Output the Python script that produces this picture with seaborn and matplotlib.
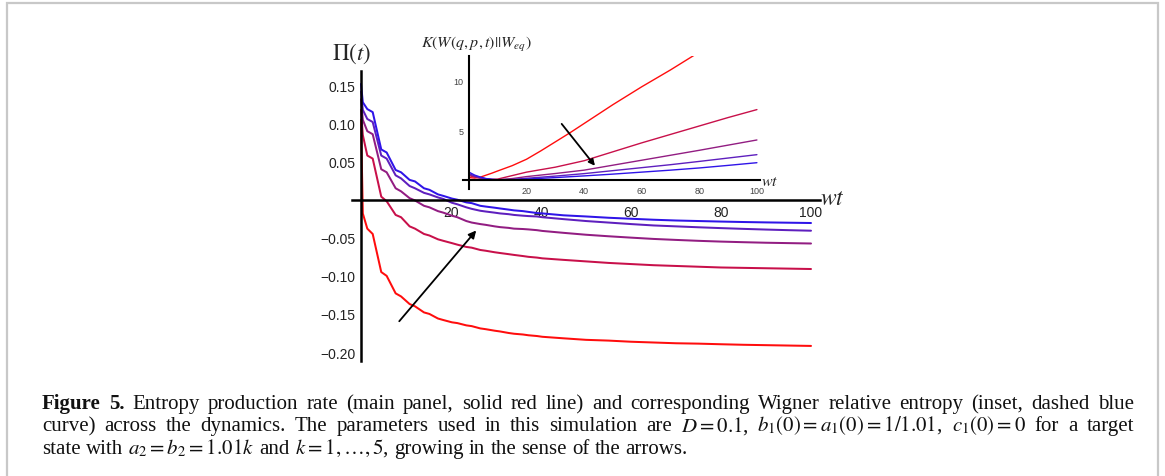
import numpy as np
import pandas as pd
import matplotlib
matplotlib.use("Agg")
import matplotlib.pyplot as plt
import seaborn as sns
from matplotlib.ticker import MultipleLocator, FuncFormatter
from matplotlib.patches import Rectangle

# ---------------- data ----------------
K_VALUES = [1, 2, 3, 4, 5]
COLORS = ["#ff0d0d", "#c8104a", "#921d82", "#5e1fbe", "#2f14e8"]

# main panel: entropy production rate Pi(t) vs wt
T_MAIN = [0, 0.4, 1.4, 2.6, 4.5, 5.7, 7.7, 8.9, 10.8, 12.0, 14.0, 15.2, 17.1, 18.3,
          20.2, 21.4, 23.4, 24.6, 26.5, 27.7, 29.7, 30.9, 32.8, 34.0, 36.0, 37.2,
          39.1, 40.3, 45, 50, 55, 60, 65, 70, 75, 80, 85, 90, 95, 100]
PI_K1 = [0.105, -0.018, -0.038, -0.045, -0.095, -0.100, -0.123, -0.127, -0.137, -0.140,
         -0.148, -0.150, -0.156, -0.158, -0.161, -0.162, -0.165, -0.166, -0.169, -0.170,
         -0.172, -0.173, -0.175, -0.176, -0.177, -0.178, -0.179, -0.180, -0.182, -0.184,
         -0.185, -0.1865, -0.1875, -0.1885, -0.189, -0.1898, -0.1905, -0.191, -0.1915, -0.192]
PI_K2 = [0.118, 0.085, 0.058, 0.054, 0.004, -0.002, -0.020, -0.023, -0.035, -0.038,
         -0.045, -0.047, -0.052, -0.054, -0.057, -0.059, -0.062, -0.063, -0.066, -0.067,
         -0.069, -0.070, -0.0715, -0.0725, -0.074, -0.075, -0.076, -0.077, -0.079, -0.081,
         -0.083, -0.0845, -0.086, -0.087, -0.088, -0.089, -0.0895, -0.090, -0.0905, -0.091]
PI_K3 = [0.132, 0.105, 0.090, 0.086, 0.040, 0.036, 0.015, 0.011, 0.002, -0.001,
         -0.008, -0.010, -0.015, -0.017, -0.021, -0.023, -0.028, -0.030, -0.032, -0.033,
         -0.035, -0.036, -0.037, -0.038, -0.0385, -0.039, -0.040, -0.041, -0.0435, -0.046,
         -0.048, -0.0498, -0.0515, -0.0528, -0.054, -0.055, -0.0558, -0.0565, -0.057, -0.0575]
PI_K4 = [0.142, 0.118, 0.106, 0.102, 0.058, 0.054, 0.032, 0.028, 0.018, 0.015,
         0.009, 0.007, 0.003, 0.001, -0.004, -0.006, -0.010, -0.012, -0.0145, -0.0155,
         -0.017, -0.018, -0.019, -0.020, -0.021, -0.0215, -0.022, -0.023, -0.0255, -0.028,
         -0.030, -0.032, -0.0338, -0.035, -0.0362, -0.0373, -0.0383, -0.0392, -0.040, -0.0407]
PI_K5 = [0.152, 0.128, 0.119, 0.115, 0.066, 0.062, 0.039, 0.036, 0.026, 0.024,
         0.015, 0.013, 0.007, 0.005, 0.0015, 0.0, -0.0035, -0.0045, -0.008, -0.009,
         -0.0105, -0.0115, -0.013, -0.014, -0.015, -0.016, -0.0175, -0.018, -0.0205, -0.022,
         -0.0237, -0.025, -0.0263, -0.0273, -0.028, -0.0287, -0.0293, -0.0298, -0.0302, -0.0306]

# inset: Wigner relative entropy K vs wt
T_INSET_K1 = [0, 2, 4, 6, 8, 10, 15, 20, 25, 30, 35, 40, 50, 60, 70, 80]
KL_K1 = [0.25, 0.2, 0.3, 0.5, 0.7, 0.92, 1.45, 2.1, 2.95, 3.85, 4.75, 5.7, 7.6, 9.4, 11.1, 12.9]
T_INSET = [0, 2, 4, 6, 8, 10, 15, 20, 30, 40, 50, 60, 70, 80, 90, 100]
KL_K2 = [0.45, 0.3, 0.18, 0.1, 0.07, 0.1, 0.45, 0.8, 1.3, 1.95, 2.85, 3.75, 4.6, 5.45, 6.3, 7.1]
KL_K3 = [0.55, 0.35, 0.2, 0.1, 0.05, 0.04, 0.15, 0.35, 0.66, 1.0, 1.5, 2.0, 2.5, 3.0, 3.52, 4.04]
KL_K4 = [0.65, 0.42, 0.25, 0.12, 0.06, 0.03, 0.06, 0.18, 0.4, 0.65, 0.95, 1.25, 1.55, 1.88, 2.22, 2.56]
KL_K5 = [0.8, 0.5, 0.3, 0.15, 0.07, 0.03, 0.03, 0.1, 0.25, 0.42, 0.6, 0.8, 1.0, 1.22, 1.48, 1.75]

MAIN_X_TICKS = [20, 40, 60, 80, 100]
MAIN_Y_TICKS = [-0.20, -0.15, -0.10, -0.05, 0.05, 0.10, 0.15]
INSET_X_TICKS = [20, 40, 60, 80, 100]
INSET_Y_TICKS = [5, 10]

CAPTION_BOLD = "Figure 5."
CAPTION_L1 = ("Entropy production rate (main panel, solid red line) and corresponding "
              "Wigner relative entropy (inset, dashed blue")
CAPTION_L2 = ("curve) across the dynamics. The parameters used in this simulation are "
              r"$D=0.1$, $b_1(0)=a_1(0)=1/1.01$, $c_1(0)=0$ for a target")
CAPTION_L3 = (r"state with $a_2=b_2=1.01k$ and $k=1,\ldots,5$, growing in the sense of the arrows.")

# ---------------- tables ----------------
main_df = pd.concat([
    pd.DataFrame({"wt": T_MAIN, "Pi": ys, "k": k})
    for k, ys in zip(K_VALUES, [PI_K1, PI_K2, PI_K3, PI_K4, PI_K5])
], ignore_index=True)
inset_df = pd.concat([
    pd.DataFrame({"wt": ts, "K": ys, "k": k})
    for k, ts, ys in zip(K_VALUES, [T_INSET_K1, T_INSET, T_INSET, T_INSET, T_INSET],
                         [KL_K1, KL_K2, KL_K3, KL_K4, KL_K5])
], ignore_index=True)
palette = dict(zip(K_VALUES, COLORS))

# ---------------- style ----------------
sns.set_style("white")
plt.rcParams["font.family"] = ["Liberation Sans", "DejaVu Sans"]
plt.rcParams["mathtext.fontset"] = "stix"
plt.rcParams["axes.unicode_minus"] = True

W, H = 1165, 477
fig = plt.figure(figsize=(W / 100, H / 100), dpi=100)
fig.patch.set_facecolor("white")


def fx(px):
    return px / W


def fy(py):
    return 1 - py / H


# ---------------- main axes ----------------
ax = fig.add_axes([fx(352), fy(361.7), (820 - 352) / W, (361.7 - 71.7) / H])
ax.set_facecolor("none")
sns.lineplot(data=main_df, x="wt", y="Pi", hue="k", palette=palette, hue_order=K_VALUES,
             estimator=None, sort=False, legend=False, linewidth=1.45, ax=ax)
ax.set_xlim(-2, 102)
ax.set_ylim(-0.2114, 0.1694)
ax.set_xlabel("")
ax.set_ylabel("")
for s in ["top", "right"]:
    ax.spines[s].set_visible(False)
ax.spines["left"].set_position(("data", 0))
ax.spines["bottom"].set_position(("data", 0))
for s in ["left", "bottom"]:
    ax.spines[s].set_linewidth(1.8)
    ax.spines[s].set_color("black")
ax.set_xticks(MAIN_X_TICKS)
ax.set_yticks(MAIN_Y_TICKS)
ax.xaxis.set_minor_locator(MultipleLocator(5))
ax.yaxis.set_minor_locator(MultipleLocator(0.01))
ax.yaxis.set_major_formatter(FuncFormatter(lambda v, p: f"{v:.2f}".replace("-", "\u2212")))
ax.xaxis.set_major_formatter(FuncFormatter(lambda v, p: f"{v:.0f}"))
ax.tick_params(axis="both", which="major", direction="out", length=3, width=1.2,
               labelsize=10, labelcolor="#222222", color="black", pad=1)
ax.tick_params(axis="both", which="minor", direction="out", length=1.8, width=0.8, color="black")

ax.annotate("", xy=(25.6, -0.0404), xytext=(8.5, -0.1596),
            arrowprops=dict(arrowstyle="-|>", color="black", lw=1.3, mutation_scale=11,
                            shrinkA=0, shrinkB=0))

# ---------------- inset axes ----------------
ax_in = fig.add_axes([fx(463.2), fy(190), 296.6 / W, 133 / H])
ax_in.set_facecolor("none")
sns.lineplot(data=inset_df, x="wt", y="K", hue="k", palette=palette, hue_order=K_VALUES,
             estimator=None, sort=False, legend=False, linewidth=1.0, ax=ax_in)
ax_in.set_xlim(-2, 101)
ax_in.set_ylim(-0.9, 12.5)
ax_in.set_xlabel("")
ax_in.set_ylabel("")
for s in ["top", "right"]:
    ax_in.spines[s].set_visible(False)
ax_in.spines["left"].set_position(("data", 0))
ax_in.spines["bottom"].set_position(("data", 0))
for s in ["left", "bottom"]:
    ax_in.spines[s].set_linewidth(1.5)
    ax_in.spines[s].set_color("black")
ax_in.set_xticks(INSET_X_TICKS)
ax_in.set_yticks(INSET_Y_TICKS)
ax_in.xaxis.set_minor_locator(MultipleLocator(5))
ax_in.yaxis.set_minor_locator(MultipleLocator(1))
ax_in.tick_params(axis="both", which="major", direction="out", length=2.5, width=0.8,
                  labelsize=6.5, labelcolor="#444444", pad=1.5)
ax_in.tick_params(axis="both", which="minor", direction="out", length=1.2, width=0.5)
ax_in.annotate("", xy=(43.75, 1.44), xytext=(32.2, 5.66),
               arrowprops=dict(arrowstyle="-|>", color="black", lw=1.3, mutation_scale=9,
                               shrinkA=0, shrinkB=0))

# ---------------- axis labels ----------------
fig.text(fx(351), fy(54), r"$\Pi(t)$", fontsize=16.5, ha="center", va="center")
fig.text(fx(832), fy(199), r"$wt$", fontsize=17, ha="center", va="center")
fig.text(fx(476), fy(45), r"$K(W(q,p,t)||W_{eq})$", fontsize=11.5, ha="center", va="center")
fig.text(fx(770), fy(181), r"$wt$", fontsize=11.5, ha="center", va="center")

# ---------------- border ----------------
fig.add_artist(Rectangle((fx(7), -0.05), (1158 - 7) / W, fy(4) + 0.05,
                         transform=fig.transFigure, fill=False, edgecolor="#c8c8c8", lw=1.6))

# ---------------- caption (justified like the journal layout) ----------------
fig.canvas.draw()
renderer = fig.canvas.get_renderer()
X0, X1 = 42, 1134
LINE_Y = [409, 431.5, 454]
CAP_FS = 15


def tokens(text, weight="normal"):
    return [(w, weight) for w in text.split(" ")]


def draw_line(y, toks, fs, justify):
    objs, widths = [], []
    for txt, weight in toks:
        t = fig.text(0, fy(y), txt, fontsize=fs, fontweight=weight,
                     family="Liberation Serif", ha="left", va="baseline", color="#111111")
        objs.append(t)
        widths.append(t.get_window_extent(renderer).width)
    normal_gap = fs * 100 / 72 * 0.25
    gap = (X1 - X0 - sum(widths)) / (len(objs) - 1) if justify else normal_gap
    x = X0
    for t, w in zip(objs, widths):
        t.set_x(fx(x))
        x += w + gap


draw_line(LINE_Y[0], tokens(CAPTION_BOLD, "bold") + tokens(CAPTION_L1), CAP_FS, True)
draw_line(LINE_Y[1], tokens(CAPTION_L2), CAP_FS, True)
draw_line(LINE_Y[2], tokens(CAPTION_L3), CAP_FS, False)

fig.savefig("out.png", dpi=100, facecolor="white")
